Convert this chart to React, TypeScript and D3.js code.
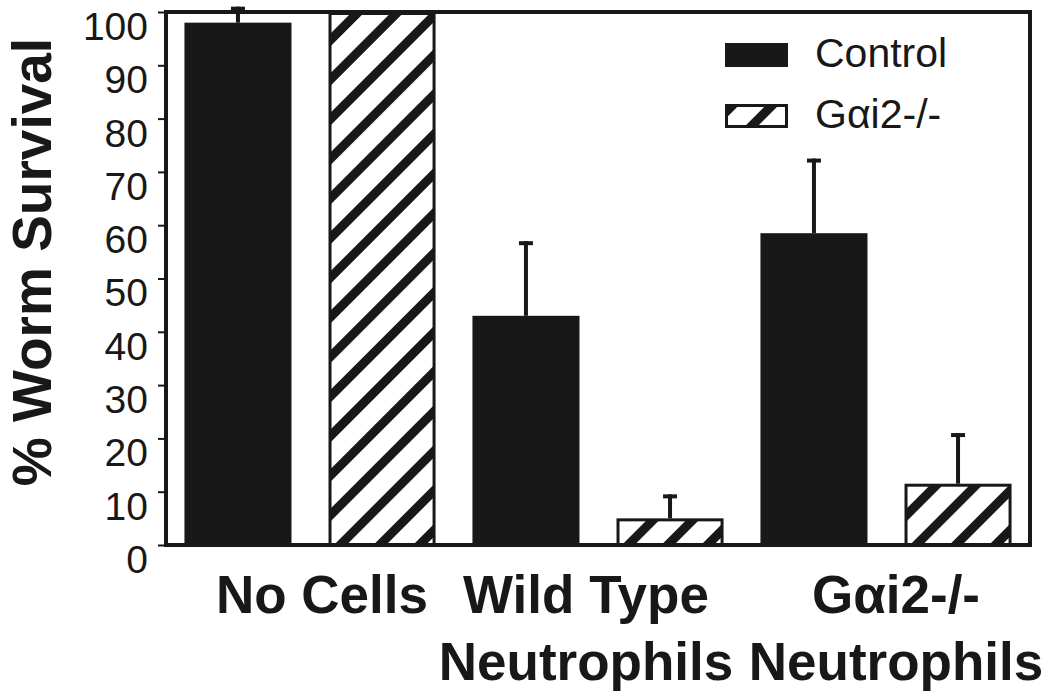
import * as d3 from "d3";
import { useEffect, useRef } from "react";

// ---- data ----
const groupLabels = [["No Cells"], ["Wild Type", "Neutrophils"], ["Gαi2-/-", "Neutrophils"]];
const groupKeys = ["nocells", "wt", "ko"];
const labelShift = [12, -12, 10];
const seriesNames = ["Control", "Gαi2-/-"];
const controlValues = [98, 43, 58.5];
const controlErrors = [3, 14, 14];
const knockoutValues = [100, 5, 11.5];
const knockoutErrors = [0, 4.5, 9.5];
const yTicks = [0, 10, 20, 30, 40, 50, 60, 70, 80, 90, 100];

const W = 1050;
const H = 699;
const INK = "#181818";
const FONT = "'Liberation Sans', Arial, Helvetica, sans-serif";

export default function App() {
  const ref = useRef<SVGSVGElement | null>(null);

  useEffect(() => {
    if (!ref.current) return;
    const svg = d3.select(ref.current);
    svg.selectAll("*").remove();

    const plot = { left: 166, right: 1030, top: 12, bottom: 545 };

    // hatch pattern
    const defs = svg.append("defs");
    const pat = defs
      .append("pattern")
      .attr("id", "hatch")
      .attr("patternUnits", "userSpaceOnUse")
      .attr("width", 28)
      .attr("height", 28)
      .attr("patternTransform", "rotate(45)");
    pat.append("rect").attr("width", 28).attr("height", 28).attr("fill", "#fff");
    pat.append("rect").attr("x", 0).attr("width", 9).attr("height", 28).attr("fill", INK);

    /* scales */
    const x0 = d3.scaleBand<string>().domain(groupKeys).range([plot.left, plot.right]).padding(0);
    const x1 = d3
      .scaleBand<string>()
      .domain(seriesNames)
      .range([0, x0.bandwidth()])
      .paddingInner(0.257)
      .paddingOuter(0.128);
    const y = d3.scaleLinear().domain([0, 100]).range([plot.bottom, plot.top]);

    const rows = groupKeys.map((k, i) => ({
      key: k,
      bars: [
        { series: seriesNames[0], value: controlValues[i], err: controlErrors[i] },
        { series: seriesNames[1], value: knockoutValues[i], err: knockoutErrors[i] },
      ],
    }));

    /* bars */
    const g = svg
      .selectAll(".grp")
      .data(rows)
      .enter()
      .append("g")
      .attr("transform", (d) => `translate(${x0(d.key)},0)`);

    g.selectAll(".err")
      .data((d) => d.bars.filter((b) => b.err > 0))
      .enter()
      .append("g")
      .each(function (b) {
        const cx = x1(b.series)! + x1.bandwidth() / 2;
        const sel = d3.select(this);
        sel
          .append("line")
          .attr("x1", cx)
          .attr("x2", cx)
          .attr("y1", y(b.value))
          .attr("y2", y(b.value + b.err))
          .attr("stroke", INK)
          .attr("stroke-width", 4);
        sel
          .append("line")
          .attr("x1", cx - 7)
          .attr("x2", cx + 7)
          .attr("y1", y(b.value + b.err) + 2)
          .attr("y2", y(b.value + b.err) + 2)
          .attr("stroke", INK)
          .attr("stroke-width", 4);
      });

    const isKo = (s: string) => s === seriesNames[1];
    g.selectAll(".bar")
      .data((d) => d.bars)
      .enter()
      .append("rect")
      .attr("x", (b) => x1(b.series)! + (isKo(b.series) ? 1.5 : 0))
      .attr("y", (b) => y(b.value) + (isKo(b.series) ? 1.5 : 0))
      .attr("width", (b) => x1.bandwidth() - (isKo(b.series) ? 3 : 0))
      .attr("height", (b) => y(0) - y(b.value) - (isKo(b.series) ? 1.5 : 0))
      .attr("fill", (b) => (isKo(b.series) ? "url(#hatch)" : INK))
      .attr("stroke", (b) => (isKo(b.series) ? INK : "none"))
      .attr("stroke-width", 3);

    /* frame */
    svg
      .append("rect")
      .attr("x", plot.left)
      .attr("y", plot.top)
      .attr("width", plot.right - plot.left)
      .attr("height", plot.bottom - plot.top)
      .attr("fill", "none")
      .attr("stroke", INK)
      .attr("stroke-width", 4);

    /* y axis */
    const yAxis = svg
      .append("g")
      .attr("transform", `translate(${plot.left - 2},0)`)
      .call(d3.axisLeft(y).tickValues(yTicks).tickSize(6).tickPadding(10));
    yAxis.select(".domain").remove();
    yAxis.selectAll(".tick line").attr("stroke", INK).attr("stroke-width", 2);
    yAxis
      .selectAll(".tick text")
      .attr("fill", INK)
      .attr("y", 15)
      .style("font-family", FONT)
      .style("font-size", "39px");

    svg
      .append("text")
      .attr("transform", `translate(51,262) rotate(-90)`)
      .attr("text-anchor", "middle")
      .style("font-family", FONT)
      .style("font-weight", "bold")
      .style("font-size", "55px")
      .attr("fill", INK)
      .text("% Worm Survival");

    /* x labels */
    groupKeys.forEach((k, i) => {
      const cx = x0(k)! + x0.bandwidth() / 2 + labelShift[i];
      groupLabels[i].forEach((line, j) => {
        svg
          .append("text")
          .attr("x", cx)
          .attr("y", 613 + j * 67)
          .attr("text-anchor", "middle")
          .style("font-family", FONT)
          .style("font-weight", "bold")
          .style("font-size", "53px")
          .attr("fill", INK)
          .text(line);
      });
    });

    /* legend */
    const legend = svg.append("g");
    seriesNames.forEach((name, i) => {
      const ly = 43 + i * 61;
      legend
        .append("rect")
        .attr("x", i === 0 ? 725 : 726.5)
        .attr("y", i === 0 ? ly : ly + 1.5)
        .attr("width", i === 0 ? 63 : 60)
        .attr("height", i === 0 ? 24 : 21)
        .attr("fill", i === 0 ? INK : "url(#hatch)")
        .attr("stroke", i === 0 ? "none" : INK)
        .attr("stroke-width", 3);
      legend
        .append("text")
        .attr("x", 815)
        .attr("y", ly + 24)
        .style("font-family", FONT)
        .style("font-size", "41px")
        .attr("fill", INK)
        .text(name);
    });
  }, []);

  return (
    <svg
      ref={ref}
      width={W}
      height={H}
      style={{ position: "absolute", left: 0, top: 0, background: "#fff" }}
    />
  );
}
